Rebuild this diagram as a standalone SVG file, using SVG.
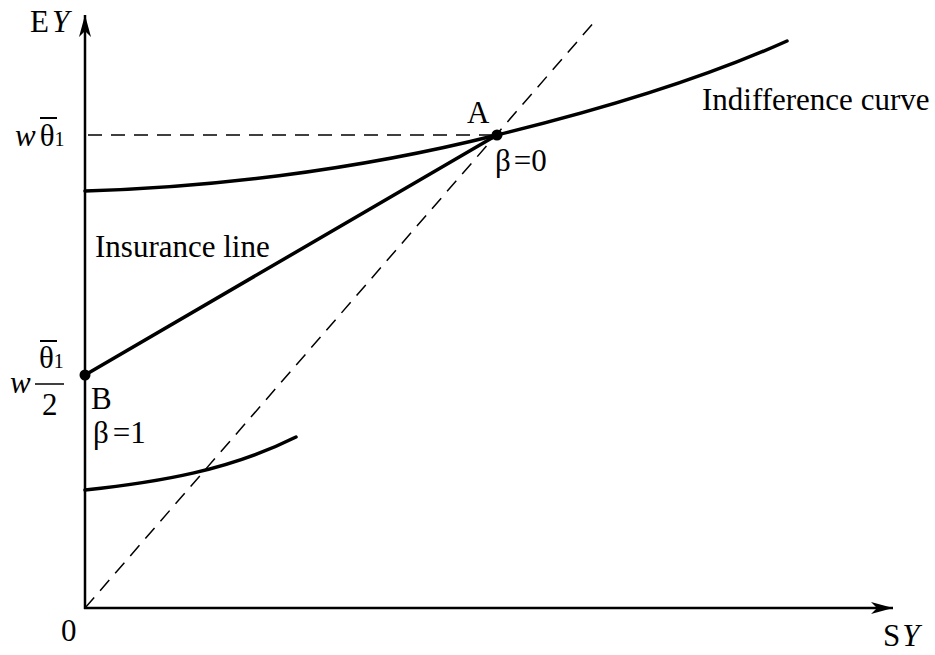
<svg xmlns="http://www.w3.org/2000/svg" width="935" height="655" viewBox="0 0 935 655">
<style>
text{font-family:"Liberation Serif","Times New Roman",serif;font-size:31px;fill:#000}
.it{font-style:italic}
.sub{font-size:20px}
.axis{stroke:#000;stroke-width:2.5;fill:none}
.dash{stroke:#000;stroke-width:1.5;stroke-dasharray:14,9;fill:none}
.curve{stroke:#000;stroke-width:3.5;fill:none;stroke-linecap:round}
.bar{stroke:#000;stroke-width:2}
</style>
<defs>
<marker id="arr" viewBox="0 0 22 12" refX="22" refY="6" markerWidth="22" markerHeight="12" markerUnits="userSpaceOnUse" orient="auto">
<path d="M0,0 L22,6 L0,12 L6,6 Z" fill="#000"/>
</marker>
</defs>
<g id="connectors">
<line class="axis" x1="85" y1="609" x2="85" y2="15" marker-end="url(#arr)"/>
<line class="axis" x1="84" y1="608" x2="893" y2="608" marker-end="url(#arr)"/>
<line class="dash" x1="85" y1="608" x2="596" y2="20"/>
<line class="dash" x1="88" y1="135" x2="497" y2="135"/>
<path class="curve" d="M85,191 C200,188 350,172 497,135 C600,110 700,80 787,41"/>
<path class="curve" d="M85,490 C160,482 230,470 296,437"/>
<line class="curve" x1="85" y1="375" x2="497" y2="135"/>
</g>
<g id="axis-labels">
<text x="30" y="32">E<tspan class="it" dx="3">Y</tspan></text>
<text x="61" y="641">0</text>
<text x="883" y="646">S<tspan class="it" dx="2">Y</tspan></text>
</g>
<g id="w-theta">
<text x="15" y="146"><tspan class="it">w</tspan><tspan dx="4">θ</tspan><tspan class="sub">1</tspan></text>
<line class="bar" x1="40" y1="118" x2="57" y2="118"/>
</g>
<g id="w-theta-half">
<text class="it" x="10" y="393">w</text>
<text x="39" y="368">θ<tspan class="sub">1</tspan></text>
<line class="bar" x1="40" y1="341" x2="57" y2="341"/>
<line x1="35" y1="384" x2="64" y2="384" stroke="#000" stroke-width="1.5"/>
<text x="42" y="415">2</text>
</g>
<g id="point-A">
<circle cx="497" cy="135" r="5.5" fill="#000"/>
<text x="467" y="123">A</text>
<text x="495" y="171">β<tspan dx="3">=0</tspan></text>
</g>
<g id="point-B">
<circle cx="85" cy="375" r="5.5" fill="#000"/>
<text x="91" y="409">B</text>
<text x="93" y="443">β<tspan dx="4">=1</tspan></text>
</g>
<g id="label-insurance">
<text x="95" y="257">Insurance line</text>
</g>
<g id="label-indifference">
<text x="702" y="110">Indifference curve</text>
</g>
</svg>
